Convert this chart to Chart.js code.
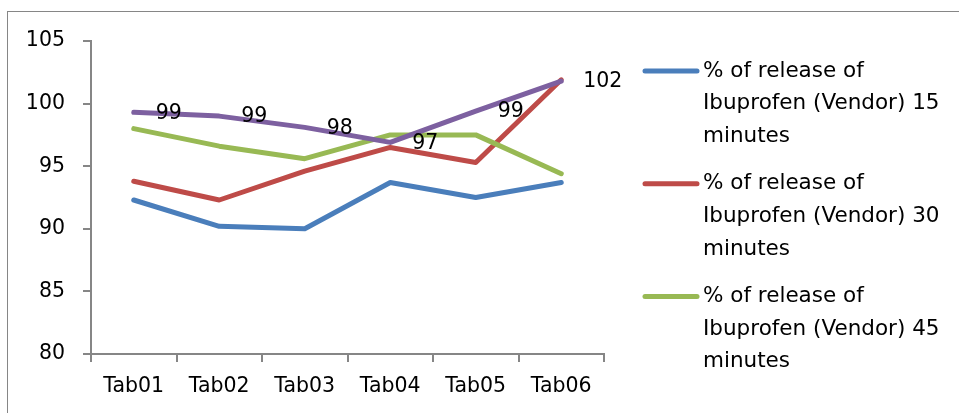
<!DOCTYPE html>
<html>
<head>
<meta charset="utf-8">
<script src="https://cdn.jsdelivr.net/npm/chart.js@4.4.0/dist/chart.umd.min.js"></script>
<style>
  body { margin: 0; background: #fff; }
  #wrap { position: relative; width: 959px; height: 413px; overflow: hidden; }
  #frame { position: absolute; left: 7px; top: 11px; width: 1000px; height: 500px;
           border-top: 1px solid #868686; border-left: 1px solid #868686; }
  #chart { position: absolute; left: 0; top: 0; }
</style>
</head>
<body>
<div id="wrap">
  <div id="frame"></div>
  <canvas id="chart" width="959" height="413"></canvas>
</div>
<script>
// categories and series
const tabs = ['Tab01', 'Tab02', 'Tab03', 'Tab04', 'Tab05', 'Tab06'];
const release15 = [92.3, 90.2, 90.0, 93.7, 92.5, 93.7];
const release30 = [93.8, 92.3, 94.6, 96.5, 95.3, 101.9];
const release45 = [98.0, 96.6, 95.6, 97.5, 97.5, 94.4];
const release60 = [99.3, 99.0, 98.1, 96.9, 99.4, 101.8];
const seriesNames = [
    '% of release of Ibuprofen (Vendor) 15 minutes',
    '% of release of Ibuprofen (Vendor) 30 minutes',
    '% of release of Ibuprofen (Vendor) 45 minutes',
    '% of release of Ibuprofen (Vendor) 60 minutes'
];
const yTicks = [80, 85, 90, 95, 100, 105];

const FONT = 'DejaVu Sans';
Chart.defaults.font.family = FONT;
Chart.defaults.font.size = 20.5;
Chart.defaults.color = '#000';

function line(label, data, color, order) {
    return {
        label: label,
        data: data,
        borderColor: color,
        backgroundColor: color,
        borderWidth: 5,
        borderCapStyle: 'round',
        borderJoinStyle: 'round',
        pointRadius: 0,
        tension: 0,
        order: order
    };
}

// values on top of the purple line
const valueLabels = {
    id: 'valueLabels',
    afterDatasetsDraw(chart) {
        const ctx = chart.ctx;
        const meta = chart.getDatasetMeta(3);
        ctx.save();
        ctx.font = '20.5px ' + FONT;
        ctx.fillStyle = '#000';
        ctx.textAlign = 'left';
        ctx.textBaseline = 'middle';
        meta.data.forEach((pt, i) => {
            ctx.fillText(Math.round(release60[i]), pt.x + 22, pt.y + 1);
        });
        ctx.restore();
    }
};

// legend on the right, only the first three series fit in the picture
const sideLegend = {
    id: 'sideLegend',
    afterDraw(chart) {
        const ctx = chart.ctx;
        ctx.save();
        ctx.font = '21.5px ' + FONT;
        ctx.textBaseline = 'middle';
        ctx.textAlign = 'left';
        for (let i = 0; i < 3; i++) {
            const ds = chart.data.datasets[i];
            const y0 = 71 + i * 112.7;
            ctx.strokeStyle = ds.borderColor;
            ctx.lineWidth = 5;
            ctx.lineCap = 'round';
            ctx.beginPath();
            ctx.moveTo(645, y0);
            ctx.lineTo(697, y0);
            ctx.stroke();
            // wrap the label
            const words = ds.label.split(' ');
            const lines = [];
            let cur = '';
            words.forEach(w => {
                const t = cur ? cur + ' ' + w : w;
                if (ctx.measureText(t).width > 252 && cur) {
                    lines.push(cur);
                    cur = w;
                } else {
                    cur = t;
                }
            });
            lines.push(cur);
            ctx.fillStyle = '#000';
            lines.forEach((l, k) => ctx.fillText(l, 703, y0 + k * 32.7));
        }
        ctx.restore();
    }
};

const ctx = document.getElementById('chart').getContext('2d');
const chart = new Chart(ctx, {
    type: 'line',
    data: {
        labels: tabs,
        datasets: [
            line(seriesNames[0], release15, '#4A7EBB', 4),
            line(seriesNames[1], release30, '#BE4B48', 3),
            line(seriesNames[2], release45, '#98B954', 2),
            line(seriesNames[3], release60, '#7D60A0', 1)
        ]
    },
    options: {
        responsive: false,
        animation: false,
        devicePixelRatio: 1,
        layout: { padding: { left: 0, top: 41, right: 355, bottom: 0 } },
        plugins: {
            legend: { display: false },
            tooltip: { enabled: false }
        },
        scales: {
            x: {
                offset: true,
                grid: {
                    offset: true,
                    drawOnChartArea: false,
                    tickLength: 8,
                    color: '#868686',
                    lineWidth: 2
                },
                border: { color: '#868686', width: 2 },
                ticks: { padding: 12, maxRotation: 0, color: '#000' },
                afterFit(scale) { scale.height = 59; }
            },
            y: {
                min: yTicks[0],
                max: yTicks[yTicks.length - 1],
                afterBuildTicks(scale) { scale.ticks = yTicks.map(v => ({ value: v })); },
                grid: {
                    drawOnChartArea: false,
                    tickLength: 8,
                    color: '#868686',
                    lineWidth: 2
                },
                border: { color: '#868686', width: 2 },
                ticks: { padding: 18, color: '#000' },
                afterFit(scale) { scale.width = 91; }
            }
        }
    },
    plugins: [valueLabels, sideLegend]
});
</script>
</body>
</html>
